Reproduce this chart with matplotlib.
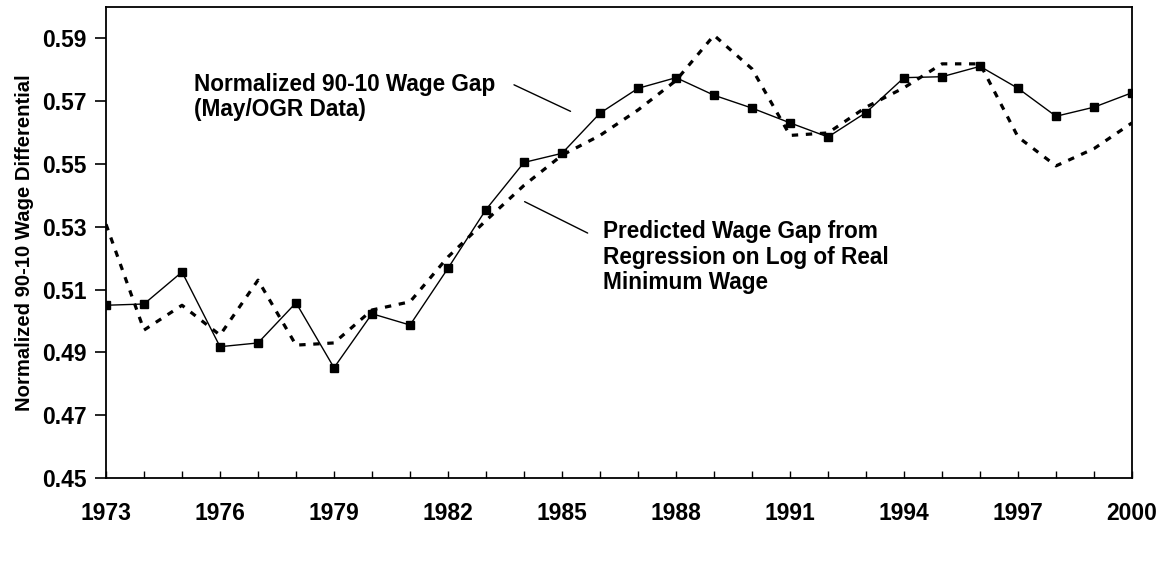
import matplotlib
matplotlib.use("Agg")
import matplotlib.pyplot as plt

# ============================================================
# DATA
# ============================================================

years = list(range(1973, 2001))

actual_gap = [0.505, 0.5054, 0.5156, 0.4918, 0.4930, 0.5058, 0.4851, 0.5023,
              0.4987, 0.5168, 0.5355, 0.5505, 0.5534, 0.5662, 0.5741, 0.5775,
              0.5719, 0.5678, 0.5631, 0.5586, 0.5664, 0.5775, 0.5778, 0.5811,
              0.5741, 0.5652, 0.5681, 0.5727]

predicted_gap = [0.5308, 0.4971, 0.5050, 0.4955, 0.5130, 0.4923, 0.4930, 0.5035,
                 0.5061, 0.5204, 0.5320, 0.5432, 0.5528, 0.5591, 0.5672, 0.5766,
                 0.5910, 0.5803, 0.5591, 0.5599, 0.5681, 0.5743, 0.5819, 0.5819,
                 0.5586, 0.5494, 0.5549, 0.5631]

y_ticks = [0.45, 0.47, 0.49, 0.51, 0.53, 0.55, 0.57, 0.59]
x_labels = list(range(1973, 2001, 3))

label_actual = "Normalized 90-10 Wage Gap\n(May/OGR Data)"
label_predicted = "Predicted Wage Gap from\nRegression on Log of Real\nMinimum Wage"

# ============================================================
# PLOT
# ============================================================

plt.rcParams["font.family"] = ["Liberation Sans", "DejaVu Sans"]
plt.rcParams["font.weight"] = "bold"

fig = plt.figure(figsize=(11.65, 5.71), dpi=100)
ax = fig.add_axes([0.091, 0.163, 0.8807, 0.8247])

ax.plot(years, predicted_gap, color="black", lw=2.3, linestyle=(0, (2.0, 2.4)),
        zorder=2)
ax.plot(years, actual_gap, color="black", lw=1.0, marker="s", markersize=6.0,
        zorder=3)

ax.set_xlim(1973, 2000)
ax.set_ylim(0.45, 0.60)

ax.set_yticks(y_ticks)
ax.set_yticklabels([f"{v:.2f}" for v in y_ticks], fontsize=16.5, fontweight="bold")
ax.set_xticks(years)
ax.set_xticklabels([str(y) if y in x_labels else "" for y in years],
                   fontsize=16.5, fontweight="bold")

ax.tick_params(axis="y", direction="out", length=8, width=1.2, pad=6)
ax.tick_params(axis="x", direction="in", length=5, width=1.0, pad=17)

for spine in ax.spines.values():
    spine.set_linewidth(1.3)

ax.set_ylabel("Normalized 90-10 Wage Differential", fontsize=14.6,
              fontweight="bold", labelpad=6)

# annotations with leader lines
ax.text(1975.32, 0.5790, label_actual, fontsize=16.3, fontweight="bold",
        va="top", ha="left", linespacing=1.12)
ax.annotate("", xy=(1985.29, 0.5664), xytext=(1983.67, 0.5756),
            arrowprops=dict(arrowstyle="-", color="black", lw=1.0))

ax.text(1986.07, 0.5320, label_predicted, fontsize=16.3, fontweight="bold",
        va="top", ha="left", linespacing=1.12)
ax.annotate("", xy=(1985.74, 0.5276), xytext=(1983.95, 0.5384),
            arrowprops=dict(arrowstyle="-", color="black", lw=1.0))

fig.savefig("out.png", dpi=100, facecolor="white")
